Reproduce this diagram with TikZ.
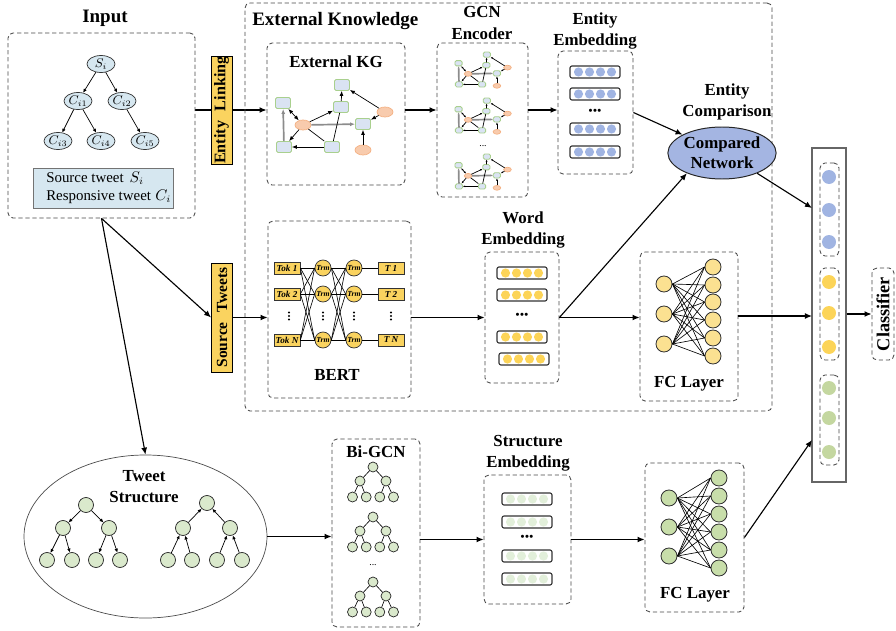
\documentclass[tikz,border=0pt]{standalone}
\usepackage{fontspec}
\setmainfont{Liberation Serif}
\usetikzlibrary{arrows.meta,shapes.geometric,calc}
\newlength\pxu
\setlength\pxu{0.025cm}
\definecolor{labyellow}{RGB}{250,211,95}
\definecolor{inblue}{RGB}{214,231,240}
\definecolor{kgblue}{RGB}{218,227,243}
\definecolor{kggreen}{RGB}{169,208,142}
\definecolor{kgorange}{RGB}{248,203,173}
\definecolor{kgorangeD}{RGB}{244,177,131}
\definecolor{embblue}{RGB}{160,180,226}
\definecolor{cnblue}{RGB}{164,181,226}
\definecolor{embyellow}{RGB}{252,212,88}
\definecolor{fcyellow}{RGB}{251,225,145}
\definecolor{treegreen}{RGB}{218,233,204}
\definecolor{fcgreen}{RGB}{200,222,170}
\definecolor{clgreen}{RGB}{196,215,160}
\definecolor{segreen}{RGB}{226,239,218}
\definecolor{boxline}{RGB}{70,70,70}
\pgfdeclarelayer{bg}
\pgfsetlayers{bg,main}
\tikzset{
 conn/.style={line width=0.8pt,-{Latex[length=5pt,width=4.2pt]}},
 wire/.style={line width=0.8pt},
 dbox/.style={draw=boxline,dash pattern=on 3pt off 2pt,rounded corners=5\pxu,line width=0.6pt,inner sep=0},
 ttl/.style={font=\fontsize{13.5}{16}\selectfont\bfseries,align=center,inner sep=0},
 sttl/.style={font=\fontsize{12}{15}\selectfont\bfseries,align=center,inner sep=0},
 ybar/.style={draw=black,fill=labyellow,inner sep=0,line width=0.6pt,font=\fontsize{11.5}{12}\selectfont\bfseries,rotate=90,minimum width=108\pxu,minimum height=21\pxu},
 tnode/.style={ellipse,draw=black!80,fill=inblue,minimum width=28\pxu,minimum height=17\pxu,inner sep=0,line width=0.5pt,font=\fontsize{9}{9}\selectfont},
 tsa/.style={line width=0.5pt,-{Latex[length=2.8pt,width=2.5pt]}},
 kgr/.style={draw=kggreen,fill=kgblue,rounded corners=1.5\pxu,minimum width=15\pxu,minimum height=11\pxu,inner sep=0,line width=0.6pt},
 kge/.style={ellipse,draw=kgorangeD,fill=kgorange,minimum width=16\pxu,minimum height=10\pxu,inner sep=0,line width=0.5pt},
 kgl/.style={line width=0.5pt,black},
 kgthick/.style={line width=1.2pt,black!45},
 kga/.style={-{Latex[length=3.5pt,width=2.8pt,scale=#1]}},
 kgb/.style={{Latex[length=3.5pt,width=2.8pt,scale=#1]}-{Latex[length=3.5pt,width=2.8pt,scale=#1]}},
 ebar/.style={draw=black!80,rounded corners=2\pxu,line width=0.8pt,minimum width=50\pxu,minimum height=12\pxu,inner sep=0},
 dots/.style={font=\fontsize{8}{8}\selectfont\bfseries,inner sep=0},
 tokb/.style={draw=black!80,fill=labyellow,minimum width=26\pxu,minimum height=12\pxu,inner sep=0,line width=0.5pt,font=\fontsize{6.5}{7}\selectfont\bfseries\itshape},
 trm/.style={circle,draw=black!80,fill=labyellow,minimum size=16\pxu,inner sep=0,line width=0.5pt,font=\fontsize{5.5}{6}\selectfont\bfseries\itshape},
 bl/.style={line width=0.45pt},
 fcy/.style={circle,draw=black!80,fill=fcyellow,minimum size=16\pxu,inner sep=0,line width=0.6pt},
 fcg/.style={circle,draw=black!80,fill=fcgreen,minimum size=16\pxu,inner sep=0,line width=0.6pt},
 tsn/.style={circle,draw=black!85,fill=treegreen,minimum size=15\pxu,inner sep=0,line width=0.5pt},
 bgn/.style={circle,draw=black!85,fill=treegreen,minimum size=10\pxu,inner sep=0,line width=0.5pt},
}
\newcommand\kgraph[4]{%
 \node[kgr,scale=#4] (#1A) at ({#2+#4*(-51)},{#3+#4*(-14)}) {};
 \node[kgr,scale=#4] (#1B) at ({#2+#4*(8)},{#3+#4*(-32)}) {};
 \node[kgr,scale=#4] (#1C) at ({#2+#4*(7)},{#3+#4*(-10)}) {};
 \node[kge,scale=#4] (#1D) at ({#2+#4*(-31)},{#3+#4*(8)}) {};
 \node[kgr,scale=#4] (#1E) at ({#2+#4*(29)},{#3+#4*(7)}) {};
 \node[kge,scale=#4] (#1F) at ({#2+#4*(51)},{#3+#4*(-5)}) {};
 \node[kgr,scale=#4] (#1G) at ({#2+#4*(-50)},{#3+#4*(30)}) {};
 \node[kgr,scale=#4] (#1H) at ({#2+#4*(-2)},{#3+#4*(30)}) {};
 \node[kge,scale=#4] (#1I) at ({#2+#4*(29)},{#3+#4*(33)}) {};
 \draw[kgl,kgb=#4] (#1A) -- (#1D);
 \draw[kgl,kga=#4] (#1D) -- (#1C);
 \draw[kgl,kga=#4] (#1D) -- (#1G);
 \draw[kgthick,kga=#4] (#1D) -- (#1E);
 \draw[kgl] (#1D) -- (#1H);
 \draw[kgthick,kga=#4] (#1G) -- (#1A);
 \draw[kgl,kga=#4] (#1H) -- (#1G);
 \draw[kgl,kga=#4] (#1C) -- (#1B);
 \draw[kgl] (#1H) -- (#1C);
 \draw[kgl,kga=#4] (#1F) -- (#1B);
 \draw[kgl,kga=#4] (#1F) -- (#1E);
 \draw[kgl,kga=#4] (#1I) -- (#1E);
}
\newcommand\embrow[4]{%
 \node[ebar] (#1) at (#2,#3) {};
 \foreach \k in {-16.5,-5.5,5.5,16.5} \fill[#4] ({#2+\k},#3) circle[radius=4.6\pxu];
}
\newcommand\btree[3]{%
 \node[bgn] (#1r) at (#2,#3) {};
 \node[bgn] (#1a) at ({#2-13},{#3+14}) {};
 \node[bgn] (#1b) at ({#2+13},{#3+14}) {};
 \node[bgn] (#1c) at ({#2-20.5},{#3+30}) {};
 \node[bgn] (#1d) at ({#2-6.8},{#3+30}) {};
 \node[bgn] (#1e) at ({#2+6.8},{#3+30}) {};
 \node[bgn] (#1f) at ({#2+20.5},{#3+30}) {};
 \draw[bl] (#1r) -- (#1a); \draw[bl] (#1r) -- (#1b);
 \draw[bl] (#1a) -- (#1c); \draw[bl] (#1a) -- (#1d);
 \draw[bl] (#1b) -- (#1e); \draw[bl] (#1b) -- (#1f);
}
\begin{document}
\begin{tikzpicture}[x=0.025cm,y=-0.025cm]
\useasboundingbox (0,0) rectangle (896,631);
% ---------------- Input ----------------
\node[ttl] (tInput) at (105,18) {Input};
\node[dbox,minimum width=187\pxu,minimum height=185\pxu] (inbox) at (101.5,125.5) {};
\node[tnode] (s) at (101,64) {$S_i$};
\node[tnode] (c1) at (78,101) {$C_{i1}$};
\node[tnode] (c2) at (122,101) {$C_{i2}$};
\node[tnode] (c3) at (58,141) {$C_{i3}$};
\node[tnode] (c4) at (101,141) {$C_{i4}$};
\node[tnode] (c5) at (145,141) {$C_{i5}$};
\draw[tsa] (s) -- (c1); \draw[tsa] (s) -- (c2);
\draw[tsa] (c1) -- (c3); \draw[tsa] (c1) -- (c4);
\draw[tsa] (c2) -- (c5);
\node[draw=black!55,fill=inblue,line width=0.6pt,minimum width=140\pxu,minimum height=40\pxu,inner sep=0] (leg) at (103,188) {};
\node[anchor=west,inner sep=0,align=left,font=\fontsize{10.6}{12.8}\selectfont] (legt) at (46,188) {Source tweet\hspace{0.4em}$S_i$\\Responsive tweet\hspace{0.3em}$C_i$};
% ---------------- labels ----------------
\node[ybar] (el) at (221.5,110) {Entity\hspace{0.6em}Linking};
\node[ybar,minimum width=109\pxu,font=\fontsize{11}{12}\selectfont\bfseries] (st) at (222,317.5) {Source\hspace{0.6em}Tweets};
% ---------------- External knowledge ----------------
\node[dbox,minimum width=527\pxu,minimum height=408\pxu] (ekbox) at (508.5,207) {};
\node[ttl,anchor=west] (tEK) at (252,21) {External Knowledge};
\node[dbox,minimum width=138\pxu,minimum height=142\pxu] (kg) at (336,114) {};
\node[sttl] (tKG) at (336,62) {External KG};
\kgraph{k}{334}{117}{1}
\node[sttl] (tGCN) at (482,23) {GCN\\Encoder};
\node[dbox,minimum width=91\pxu,minimum height=154\pxu] (gcn) at (482.5,120) {};
\kgraph{ga}{483}{70}{0.48}
\kgraph{gb}{483}{116}{0.48}
\node[dots,font=\fontsize{7}{7}\selectfont] (gdots) at (483,146) {...};
\kgraph{gc}{483}{172}{0.48}
\node[sttl] (tEE) at (595,31) {Entity\\Embedding};
\node[dbox,minimum width=75\pxu,minimum height=123\pxu] (ee) at (595.5,112.5) {};
\embrow{ee1}{595}{72}{embblue}
\embrow{ee2}{595}{94}{embblue}
\node[dots] (eedots) at (595,112) {\textbullet\kern0.3pt\textbullet\kern0.3pt\textbullet};
\embrow{ee3}{595}{129}{embblue}
\embrow{ee4}{595}{152}{embblue}
\node[sttl] (tEC) at (727,102) {Entity\\Comparison};
\node[ellipse,draw=black!85,fill=cnblue,line width=0.7pt,minimum width=98\pxu,minimum height=52\pxu,inner sep=0,font=\fontsize{12}{14.5}\selectfont\bfseries,align=center] (cn) at (722,153) {Compared\\Network};
% BERT
\node[dbox,minimum width=143\pxu,minimum height=177\pxu] (bert) at (339.5,309.5) {};
\node[sttl] (tBERT) at (337,375) {BERT};
\node[tokb] (tok1) at (287,268) {Tok 1};
\node[tokb] (tok2) at (287,294) {Tok 2};
\node[tokb] (tokn) at (287,340) {Tok N};
\node[trm] (ta1) at (323,268) {Trm};
\node[trm] (ta2) at (323,294) {Trm};
\node[trm] (tan) at (323,340) {Trm};
\node[trm] (tb1) at (354,268) {Trm};
\node[trm] (tb2) at (354,294) {Trm};
\node[trm] (tbn) at (354,340) {Trm};
\node[tokb] (o1) at (391,268) {T 1};
\node[tokb] (o2) at (391,294) {T 2};
\node[tokb] (on) at (391,340) {T N};
\foreach \i in {tok1,tok2,tokn} \foreach \j in {ta1,ta2,tan} \draw[bl] (\i.east) -- (\j.west);
\foreach \i in {ta1,ta2,tan} \foreach \j in {tb1,tb2,tbn} \draw[bl] (\i.east) -- (\j.west);
\draw[bl] (tb1) -- (o1); \draw[bl] (tb2) -- (o2); \draw[bl] (tbn) -- (on);
\foreach \xx in {289,323,354,391} \foreach \yy in {312.5,316,319.5} \fill (\xx,\yy) circle[radius=1.1\pxu];
% Word embedding
\node[sttl] (tWE) at (523,230) {Word\\Embedding};
\node[dbox,minimum width=74\pxu,minimum height=131\pxu] (we) at (522,317.5) {};
\embrow{we1}{522}{273}{embyellow}
\embrow{we2}{522}{295}{embyellow}
\node[dots] (wedots) at (522,316) {\textbullet\kern0.3pt\textbullet\kern0.3pt\textbullet};
\embrow{we3}{522}{337}{embyellow}
\embrow{we4}{524}{359}{embyellow}
% FC top
\node[dbox,minimum width=98\pxu,minimum height=149\pxu] (fc1) at (689,326.5) {};
\node[sttl] (tFC1) at (689,384) {FC Layer};
\foreach \yy [count=\n] in {284,314,344} \node[fcy] (fa\n) at (664,\yy) {};
\foreach \yy [count=\n] in {267,285,302,320,338,356} \node[fcy] (fb\n) at (713,\yy) {};
\foreach \i in {1,2,3} \foreach \j in {1,...,6} \draw[bl] (fa\i.east) -- (fb\j.west);
% Classifier column
\node[draw=black!60,line width=1pt,minimum width=34\pxu,minimum height=334\pxu,inner sep=0] (col) at (829,315) {};
\node[dbox,minimum width=19\pxu,minimum height=93\pxu] (g1) at (829.5,209.5) {};
\node[dbox,minimum width=19\pxu,minimum height=92\pxu] (g2) at (829.5,314) {};
\node[dbox,minimum width=19\pxu,minimum height=90\pxu] (g3) at (829.5,420) {};
\foreach \yy in {177,210,242} \fill[embblue] (829,\yy) circle[radius=7\pxu];
\foreach \yy in {282,313,347} \fill[embyellow] (829,\yy) circle[radius=7\pxu];
\foreach \yy in {388,418,452} \fill[clgreen] (829,\yy) circle[radius=7\pxu];
\node[dbox,rotate=90,minimum width=92\pxu,minimum height=22\pxu,font=\fontsize{13}{14}\selectfont\bfseries] (cl) at (883,314) {Classifier};
\coordinate (in1) at (812,208);
\coordinate (in2) at (812,316);
\coordinate (in3) at (812,440);
% Tweet structure
\node[ellipse,draw=black!70,line width=0.5pt,minimum width=243\pxu,minimum height=163\pxu,inner sep=0] (ts) at (145.5,536.5) {};
\node[sttl] (tTS) at (144,487) {Tweet\\Structure};
\node[tsn] (p0) at (86,505) {};
\node[tsn] (p1) at (63,528) {};
\node[tsn] (p2) at (109,528) {};
\node[tsn] (p3) at (47,560) {};
\node[tsn] (p4) at (72,560) {};
\node[tsn] (p5) at (96,560) {};
\node[tsn] (p6) at (120,560) {};
\draw[tsa] (p0) -- (p1); \draw[tsa] (p0) -- (p2);
\draw[tsa] (p1) -- (p3); \draw[tsa] (p1) -- (p4);
\draw[tsa] (p2) -- (p5); \draw[tsa] (p2) -- (p6);
\node[tsn] (q0) at (207,503) {};
\node[tsn] (q1) at (183,528) {};
\node[tsn] (q2) at (230,528) {};
\node[tsn] (q3) at (168,560) {};
\node[tsn] (q4) at (192,560) {};
\node[tsn] (q5) at (217,560) {};
\node[tsn] (q6) at (242,560) {};
\draw[tsa] (q1) -- (q0); \draw[tsa] (q2) -- (q0);
\draw[tsa] (q3) -- (q1); \draw[tsa] (q4) -- (q1);
\draw[tsa] (q5) -- (q2); \draw[tsa] (q6) -- (q2);
% Bi-GCN
\node[dbox,minimum width=88\pxu,minimum height=188\pxu] (bigcn) at (376,533) {};
\node[sttl] (tBG) at (376,452) {Bi-GCN};
\btree{ba}{373}{467}
\btree{bb}{373}{517}
\node[dots,font=\fontsize{7}{7}\selectfont] (bdots) at (373,565) {...};
\btree{bc}{373}{582}
% Structure embedding
\node[sttl] (tSE) at (528,453) {Structure\\Embedding};
\node[dbox,minimum width=87\pxu,minimum height=129\pxu] (se) at (527.5,539.5) {};
\embrow{se1}{527}{499}{segreen}
\embrow{se2}{527}{522}{segreen}
\node[dots] (sedots) at (527,538) {\textbullet\kern0.3pt\textbullet\kern0.3pt\textbullet};
\embrow{se3}{527}{556}{segreen}
\embrow{se4}{527}{579}{segreen}
% FC bottom
\node[dbox,minimum width=99\pxu,minimum height=149\pxu] (fc2) at (694.5,537.5) {};
\node[sttl] (tFC2) at (695,595) {FC Layer};
\foreach \yy [count=\n] in {498,527,556} \node[fcg] (ga\n) at (669,\yy) {};
\foreach \yy [count=\n] in {478,496,514,532,550,568} \node[fcg] (gb\n) at (719,\yy) {};
\foreach \i in {1,2,3} \foreach \j in {1,...,6} \draw[bl] (ga\i.east) -- (gb\j.west);
% ---------------- connectors ----------------
\begin{pgfonlayer}{bg}
\draw[conn] (inbox.east |- el) -- (kg.west |- el);
\end{pgfonlayer}
\draw[conn] (kg.east |- el) -- (gcn.west |- el);
\draw[conn] (gcn.east |- el) -- (ee.west |- el);
\draw[conn] (inbox.south) -- (st.north);
\draw[conn] (inbox.south) -- (ts.north);
\draw[conn] (st.south) -- (bert.west |- st.south);
\draw[conn] (bert.east |- we.west) -- (we.west);
\draw[conn] (we.east) -- (fc1.west |- we.east);
\draw[conn] (we.east) -- (cn.-150);
\draw[conn] (ee.east) -- (cn.155);
\draw[conn] (cn.-30) -- (in1);
\draw[conn] (fc1.east |- in2) -- (in2);
\draw[conn] (fc2.east) -- (in3);
\draw[conn] (col.east |- cl) -- (cl.north);
\draw[conn] (ts.east) -- (bigcn.west |- ts.east);
\draw[conn] (bigcn.east |- se.west) -- (se.west);
\draw[conn] (se.east) -- (fc2.west |- se.east);
\end{tikzpicture}
\end{document}
